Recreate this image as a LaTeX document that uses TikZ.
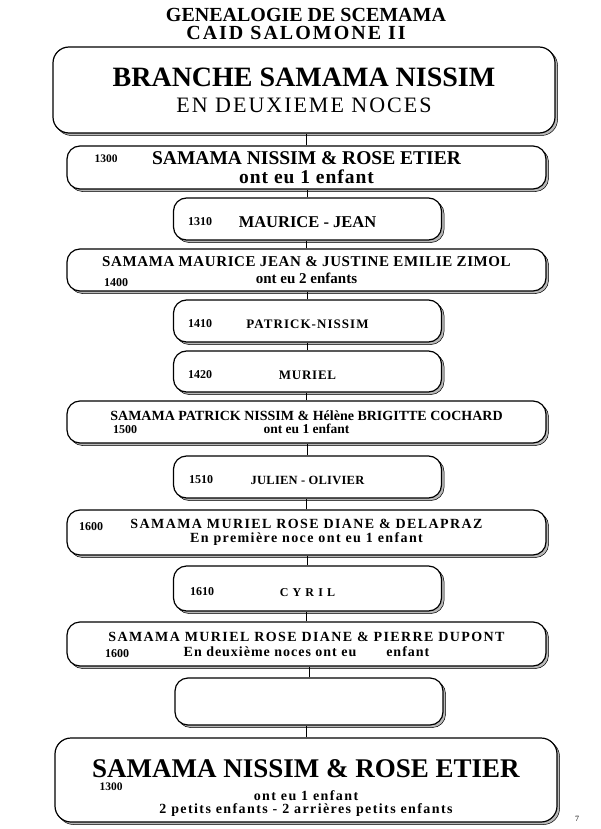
\documentclass[tikz,border=0pt]{standalone}
\usepackage{fontspec}
\setmainfont{Liberation Serif}
\newfontfamily\romain{Liberation Serif}
\usetikzlibrary{positioning,shadows}
\newcommand\fsz[2]{\fontsize{#1}{#2}\selectfont}
\newcommand\espace[1]{\addfontfeature{LetterSpace=#1}}

\begin{document}
\begin{tikzpicture}[x=1pt, y=-1pt,
    every node/.append style={font=\romain},
    boite/.style={draw, line width=1.2pt, fill=white, rounded corners=13pt, inner sep=0pt, align=center,
      drop shadow={shadow xshift=2.5pt, shadow yshift=-2.5pt, fill=gray!55, draw=black, line width=0.5pt, opacity=1}},
    grande/.style={boite, rounded corners=16pt, minimum width=502pt},
    large/.style={boite, minimum width=479pt},
    etroite/.style={boite, minimum width=268pt, text height=15pt, text depth=0pt},
    annee/.style={inner sep=0pt, font=\romain\bfseries\fsz{12}{12}},
    lien/.style={line width=1pt}]
  \useasboundingbox (0,0) rectangle (600,829);

  \node (titre1) at (306,15) {\bfseries\fsz{20}{20}GENEALOGIE DE SCEMAMA};
  \node (titre2) at (296,33) {\bfseries\fsz{20}{20}\espace{10}CAID SALOMONE II};

  \node[grande, minimum height=86pt, font=\romain\bfseries\fsz{28}{26}] (branche) at (304,90)
    {BRANCHE SAMAMA NISSIM\\ {\mdseries\fsz{22}{26}\espace{9}EN DEUXIEME NOCES}};
  \node[large, minimum height=43pt, font=\romain\bfseries\fsz{19.5}{19}] (b1300) at (306.5,167.5)
    {SAMAMA NISSIM \& ROSE ETIER\\ {\espace{5}ont eu 1 enfant}};
  \node[etroite, minimum height=42pt, font=\romain\bfseries\fsz{16.5}{18}, text height=17pt] (b1310) at (307.5,219)
    {MAURICE - JEAN};
  \node[large, minimum height=42pt, font=\romain\bfseries\fsz{15}{17}] (b1400) at (306.5,270)
    {{\espace{4}SAMAMA MAURICE JEAN \& JUSTINE EMILIE ZIMOL}\\ ont eu 2 enfants};
  \node[etroite, minimum height=42pt, font=\romain\bfseries\fsz{13}{15}] (b1410) at (307.5,321)
    {{\espace{8}PATRICK-NISSIM}};
  \node[etroite, minimum height=41pt, font=\romain\bfseries\fsz{13}{15}] (b1420) at (307.5,371.5)
    {{\espace{6}MURIEL}};
  \node[large, minimum height=42pt, font=\romain\bfseries\fsz{14}{13.5}] (b1500) at (306.5,422)
    {SAMAMA PATRICK NISSIM \& Hélène BRIGITTE COCHARD\\ {\fsz{13.5}{13}ont eu 1 enfant}};
  \node[etroite, minimum height=42pt, font=\romain\bfseries\fsz{12.5}{15}] (b1510) at (307.5,477)
    {{\espace{2}JULIEN - OLIVIER}};
  \node[large, minimum height=45pt, font=\romain\bfseries\fsz{14}{14.5}] (b1600) at (306.5,532.5)
    {{\espace{10}SAMAMA MURIEL ROSE DIANE \& DELAPRAZ}\\ {\espace{10}En première noce ont eu 1 enfant}};
  \node[etroite, minimum height=45pt, font=\romain\bfseries\fsz{12}{15}] (b1610) at (307.5,588.5)
    {{\espace{10}C Y R I L}};
  \node[large, minimum height=44pt, font=\romain\bfseries\fsz{14}{15}] (b1600b) at (306.5,644)
    {{\espace{10}SAMAMA MURIEL ROSE DIANE \& PIERRE DUPONT}\\ {\espace{7}En deuxième noces ont eu\hspace{30pt}enfant}};
  \node[etroite, minimum height=47pt] (vide) at (309,701.5) {};
  \node[grande, minimum height=84pt, font=\romain\bfseries\fsz{14}{13.5}] (b1300b) at (306,780)
    {{\fsz{27}{27}\rule{0pt}{34pt}SAMAMA NISSIM \& ROSE ETIER}\\[9pt] {\espace{10}ont eu 1 enfant}\\ {\espace{10}2 petits enfants - 2 arrières petits enfants}};

  \node[annee, font=\romain\bfseries\fsz{11.5}{12}] (a1300) at (106,159) {1300};
  \node[annee] (a1310) at (200,222) {1310};
  \node[annee] (a1400) at (116,283) {1400};
  \node[annee] (a1410) at (200,324) {1410};
  \node[annee] (a1420) at (200,375) {1420};
  \node[annee] (a1500) at (125,430) {1500};
  \node[annee] (a1510) at (201,480) {1510};
  \node[annee] (a1600) at (91,527) {1600};
  \node[annee] (a1610) at (202,592) {1610};
  \node[annee] (a1600b) at (117,654) {1600};
  \node[annee, font=\romain\bfseries\fsz{11.5}{12}] (a1300b) at (111,787) {1300};

  \node[inner sep=0pt, font=\romain\fsz{8}{8}] (page) at (577,819) {7};

  \draw[lien] (b1300.north) -- (b1300.north |- branche.south);
  \draw[lien] (b1310.north) -- (b1310.north |- b1300.south);
  \draw[lien] (b1400.north) -- (b1400.north |- b1310.south);
  \draw[lien] (b1410.north) -- (b1410.north |- b1400.south);
  \draw[lien] (b1420.north) -- (b1420.north |- b1410.south);
  \draw[lien] (b1500.north) -- (b1500.north |- b1420.south);
  \draw[lien] (b1510.north) -- (b1510.north |- b1500.south);
  \draw[lien] (b1600.north) -- (b1600.north |- b1510.south);
  \draw[lien] (b1610.north) -- (b1610.north |- b1600.south);
  \draw[lien] (b1600b.north) -- (b1600b.north |- b1610.south);
  \draw[lien] (vide.north) -- (vide.north |- b1600b.south);
  \draw[lien] (b1300b.north) -- (b1300b.north |- vide.south);
\end{tikzpicture}
\end{document}
